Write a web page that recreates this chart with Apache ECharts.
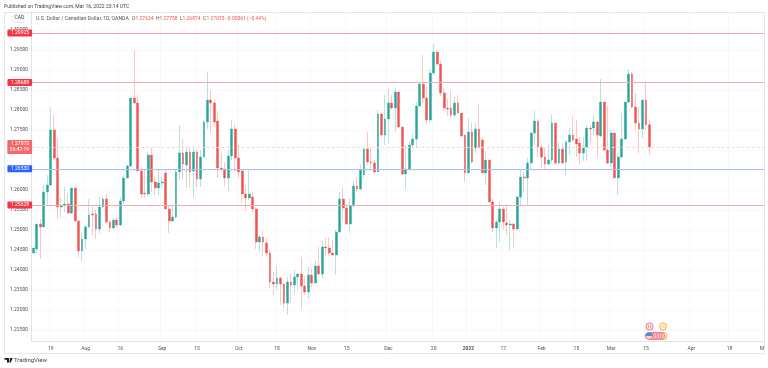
<!DOCTYPE html>
<html><head><meta charset="utf-8">
<style>html,body{margin:0;padding:0;background:#fff;overflow:hidden}#c{width:768px;height:368px;filter:blur(.35px);}</style>
<script src="https://cdn.jsdelivr.net/npm/echarts@6/dist/echarts.min.js"></script>
</head><body><div id="c"></div>
<script>
const opens=[
1.24425,1.24525,1.2515,1.25075,1.2595,1.26125,1.275,1.268,1.25575,1.25625,
1.2565,1.25425,1.2605,1.25225,1.24475,1.24775,1.25075,1.254,1.254,1.25025,
1.25575,1.25775,1.252,1.2505,1.2525,1.25125,1.25725,1.263,1.266,1.283,
1.28175,1.26475,1.25925,1.259,1.26875,1.262,1.2605,1.26175,1.26425,1.25525,
1.25225,1.25325,1.2645,1.26925,1.26625,1.2695,1.26475,1.2695,1.26275,1.26825,
1.277,1.2825,1.28175,1.27725,1.2655,1.26525,1.263,1.2685,1.27525,1.268,
1.26475,1.259,1.258,1.25825,1.25525,1.247,1.24825,1.24675,1.24425,1.237,
1.2365,1.238,1.2365,1.23175,1.237,1.23625,1.23825,1.239,1.236,1.2345,
1.23875,1.23675,1.241,1.239,1.24575,1.2455,1.24425,1.24375,1.2495,1.25775,
1.2555,1.2515,1.256,1.261,1.26025,1.26375,1.27025,1.267,1.26675,1.2645,
1.279,1.27375,1.27775,1.28175,1.2805,1.2845,1.27575,1.264,1.26525,1.27125,
1.27275,1.281,1.2865,1.283,1.2775,1.28925,1.2945,1.2915,1.28425,1.2805,
1.2805,1.27875,1.28175,1.27925,1.27375,1.26425,1.2745,1.2705,1.27525,1.2725,
1.26425,1.2675,1.257,1.2505,1.252,1.25525,1.25175,1.25125,1.2515,1.25025,
1.25825,1.26325,1.263,1.26675,1.27425,1.27725,1.27075,1.26825,1.2665,1.2675,
1.27675,1.26675,1.27025,1.267,1.272,1.27375,1.27275,1.27175,1.26925,1.27075,
1.2755,1.2755,1.277,1.2735,1.282,1.27,1.26675,1.27425,1.263,1.26825,
1.27275,1.282,1.289,1.28075,1.27675,1.27525,1.2825,1.27634];
const closes=[
1.2455,1.2515,1.25075,1.2595,1.26125,1.275,1.268,1.25575,1.25625,1.2565,
1.25425,1.2605,1.25225,1.24475,1.24775,1.25075,1.25375,1.25375,1.25025,1.25575,
1.25775,1.252,1.2505,1.2525,1.25125,1.25725,1.263,1.266,1.283,1.28175,
1.26475,1.259,1.259,1.26875,1.262,1.2605,1.26175,1.262,1.25525,1.25225,
1.25325,1.2645,1.26925,1.2665,1.2695,1.2645,1.2695,1.26275,1.26825,1.277,
1.2825,1.28175,1.277,1.2655,1.26525,1.263,1.2685,1.27525,1.268,1.2645,
1.259,1.258,1.259,1.25525,1.247,1.24825,1.247,1.24425,1.237,1.2365,
1.238,1.2365,1.23175,1.237,1.23625,1.23825,1.239,1.236,1.2345,1.23875,
1.23675,1.241,1.239,1.24575,1.2455,1.24425,1.24375,1.2495,1.25775,1.2555,
1.2515,1.256,1.261,1.26025,1.265,1.27025,1.267,1.26675,1.2645,1.279,
1.27375,1.27775,1.28175,1.2805,1.2845,1.27575,1.264,1.26525,1.27125,1.27275,
1.281,1.2865,1.283,1.2775,1.28925,1.2945,1.2915,1.28425,1.2805,1.28025,
1.27875,1.28175,1.27925,1.2735,1.26425,1.2745,1.267,1.27525,1.2705,1.26425,
1.2675,1.257,1.2505,1.252,1.25525,1.252,1.25125,1.2515,1.25025,1.25825,
1.26325,1.263,1.26675,1.27425,1.27725,1.27075,1.26825,1.2665,1.2675,1.27675,
1.26675,1.27025,1.26675,1.272,1.27375,1.2725,1.2715,1.26925,1.27075,1.2755,
1.27525,1.277,1.27375,1.282,1.27,1.26675,1.27425,1.263,1.26825,1.27275,
1.282,1.289,1.28075,1.27675,1.27525,1.2825,1.27634,1.27073];
const lows=[
1.24425,1.24425,1.24275,1.25075,1.25625,1.26125,1.2675,1.25275,1.25325,1.2545,
1.254,1.254,1.252,1.24325,1.24225,1.24525,1.2505,1.24875,1.24775,1.24925,
1.2555,1.25175,1.2495,1.25025,1.2505,1.251,1.2565,1.263,1.26575,1.2815,
1.26475,1.258,1.258,1.2585,1.2595,1.25875,1.25875,1.2605,1.25525,1.24925,
1.252,1.25275,1.2625,1.2625,1.2605,1.26075,1.25825,1.26075,1.26075,1.268,
1.27525,1.27425,1.27575,1.263,1.2645,1.261,1.2595,1.2675,1.2645,1.263,
1.25675,1.25475,1.2575,1.2545,1.24525,1.2445,1.2435,1.24325,1.2355,1.23375,
1.235,1.23125,1.23075,1.22875,1.232,1.23425,1.235,1.23025,1.23375,1.23275,
1.23575,1.23675,1.23875,1.23775,1.2435,1.2435,1.2435,1.23875,1.24925,1.2525,
1.25125,1.24925,1.25575,1.2595,1.26,1.263,1.26625,1.265,1.26425,1.2645,
1.2735,1.27125,1.2715,1.28,1.2745,1.2755,1.26375,1.26025,1.265,1.27075,
1.2705,1.28075,1.28175,1.2765,1.277,1.28875,1.291,1.2835,1.28,1.2785,
1.27825,1.27825,1.279,1.27325,1.262,1.26425,1.26675,1.26925,1.2705,1.26425,
1.26125,1.257,1.2495,1.2455,1.247,1.25,1.24875,1.245,1.2455,1.25,
1.25575,1.2595,1.25625,1.26525,1.27125,1.26825,1.2655,1.26525,1.26625,1.26675,
1.26625,1.26625,1.2665,1.2635,1.26875,1.272,1.26825,1.2665,1.26725,1.26725,
1.272,1.27375,1.26825,1.27325,1.26975,1.2665,1.26575,1.263,1.25875,1.268,
1.2725,1.28175,1.2805,1.275,1.26925,1.273,1.275,1.26874];
const highs=[
1.2455,1.2515,1.25275,1.26125,1.26375,1.28075,1.27875,1.273,1.25825,1.26075,
1.25925,1.2605,1.2605,1.25225,1.24925,1.25125,1.25775,1.25625,1.255,1.25825,
1.25825,1.259,1.2525,1.253,1.25325,1.25825,1.26375,1.26625,1.283,1.295,
1.28375,1.26575,1.265,1.2695,1.27075,1.26325,1.265,1.26325,1.265,1.256,
1.256,1.265,1.27625,1.27275,1.2705,1.27075,1.2705,1.27,1.27,1.2775,
1.2895,1.285,1.28275,1.27975,1.26925,1.267,1.27,1.2775,1.2765,1.27125,
1.265,1.26125,1.265,1.2595,1.25575,1.24875,1.24975,1.248,1.245,1.2395,
1.241,1.23825,1.23675,1.23825,1.23925,1.24,1.23925,1.24325,1.2385,1.24075,
1.24025,1.2425,1.24575,1.24725,1.248,1.24825,1.2475,1.25,1.2595,1.2605,
1.256,1.258,1.26225,1.26325,1.26625,1.2705,1.2745,1.27075,1.2675,1.28,
1.27925,1.28375,1.2855,1.28375,1.2855,1.2845,1.27575,1.27125,1.272,1.274,
1.282,1.28675,1.29375,1.28575,1.29025,1.2965,1.29475,1.2925,1.2855,1.283,
1.28475,1.28325,1.28375,1.27925,1.27375,1.278,1.27675,1.27675,1.2815,1.27325,
1.26975,1.2675,1.25775,1.2525,1.257,1.25575,1.2565,1.2525,1.25175,1.25875,
1.265,1.2645,1.268,1.27425,1.27975,1.27775,1.27125,1.27075,1.2715,1.27875,
1.27675,1.272,1.27175,1.2725,1.2755,1.2785,1.2775,1.27325,1.27325,1.276,
1.27625,1.2785,1.27725,1.28775,1.282,1.281,1.275,1.27425,1.26925,1.27925,
1.282,1.29025,1.2895,1.28425,1.28075,1.2825,1.28725,1.27758];
const yTicks=[1.225,1.23,1.235,1.24,1.245,1.25,1.255,1.26,1.265,1.27,1.275,1.28,1.285,1.29,1.295,1.3];
const xTickLabels={'2021-07-19':'19','2021-08-02':'Aug','2021-08-16':'16','2021-09-01':'Sep','2021-09-15':'15','2021-10-01':'Oct','2021-10-18':'18','2021-11-01':'Nov','2021-11-15':'15','2021-12-01':'Dec','2021-12-20':'20','2022-01-03':'2022','2022-01-17':'17','2022-02-01':'Feb','2022-02-15':'15','2022-03-01':'Mar','2022-03-15':'15','2022-04-01':'Apr','2022-04-18':'18','2022-05-02':'May'};
const redLevels=[1.29925,1.28688,1.25628];
const blueLevel=1.2653;
const lastPrice=1.27073;
const countdown='06:47:19';

const categories=[];
for(let t=Date.UTC(2021,6,12);categories.length<211;t+=864e5){
  const d=new Date(t);const w=d.getUTCDay();
  if(w!==0&&w!==6)categories.push(d.toISOString().slice(0,10));
}
const UP='#26a69a',DOWN='#ef5350',INK='#50535e',FONT='Roboto, Arial, sans-serif';
const full=opens.map((o,i)=>[o,closes[i],lows[i],highs[i]]);
const bodies=opens.map((o,i)=>[o,closes[i],Math.min(o,closes[i]),Math.max(o,closes[i])]);
const lvlLabel=(bg)=>({show:true,position:'start',distance:-0.5,color:'#fff',fontSize:5,fontFamily:FONT,
  backgroundColor:bg,padding:[1,3,1,3.5],borderRadius:1,lineHeight:5,
  formatter:p=>p.value.toFixed(5)});
const lines=redLevels.map(v=>({yAxis:v,lineStyle:{color:'#f9a8ae',width:1,type:'solid'},label:lvlLabel('#f23645')}));
lines.push({yAxis:blueLevel,lineStyle:{color:'#a9c0fb',width:1,type:'solid'},label:lvlLabel('#2962ff')});
lines.push({yAxis:lastPrice,lineStyle:{color:'#fad4d3',width:1,type:[3,2]},
  label:Object.assign(lvlLabel('#f4686a'),{lineHeight:6,padding:[1,3,1,2.5],formatter:p=>p.value.toFixed(5)+'\n'+countdown})});

const gfx=[];
const txt=(x,y,text,o)=>gfx.push({type:'text',x,y,silent:true,z:10,style:Object.assign({text,fill:INK,fontSize:5.2,fontFamily:FONT,textVerticalAlign:'middle'},o||{})});
const rect=(x,y,w,h,o,r)=>gfx.push({type:'rect',silent:true,z:o.z||5,shape:{x,y,width:w,height:h,r:r||0},style:o});
rect(764,0,4,368,{fill:'#fff',z:8});
rect(4.5,12.5,760,341,{fill:'none',stroke:'#e4e6ec',lineWidth:1,z:9});
txt(4,6.8,'Published on TradingView.com, Mar 16, 2022 23:14 UTC',{fontSize:5.05,fill:'#3c3f4a'});
rect(13,14.5,11,8,{fill:'#fff',stroke:'#dfe1e8',lineWidth:.8,z:9},2);
txt(14.6,18.2,'CAD',{fontSize:5,fill:'#3c3f4a'});
txt(36,19,'U.S. Dollar / Canadian Dollar, 1D, OANDA',{fontSize:5.2});
const legend=[[132,'O'],[135.5,'1.27634'],[156,'H'],[159.5,'1.27758'],[180,'L'],[182.5,'1.26874'],[203,'C'],[206.5,'1.27073'],[225,'\u22120.00561 (\u22120.44%)']];
legend.forEach(([x,t])=>txt(x,19,t,{fontSize:4.95,fill:/^[OHLC]$/.test(t)?INK:DOWN}));
gfx.push({type:'polygon',silent:true,z:10,shape:{points:[[4.5,358],[9,358],[9,362.5],[7,362.5],[7,359.8],[4.5,359.8]]},style:{fill:'#131722'}});
gfx.push({type:'polygon',silent:true,z:10,shape:{points:[[10,358],[12.6,358],[10.8,362.5],[9.5,362.5]]},style:{fill:'#131722'}});
txt(14,360.5,'TradingView',{fontSize:6,fill:'#3c3f4a'});
const ev=(x,y,c,f)=>gfx.push({type:'circle',silent:true,z:7,shape:{cx:x,cy:y,r:3.6},style:{fill:f,stroke:c,lineWidth:1}});
ev(649.5,326.5,'#f5717f','#fde3e6');ev(663,326.5,'#f9b24e','#fff1dc');
[663.5,661,658.5,656,653.5,651,649].forEach((x,i)=>ev(x,336,i===0?'#f9b24e':'#f5717f',i===0?'#fff1dc':'#fbd0d5'));
gfx.push({type:'sector',silent:true,z:7,shape:{cx:649,cy:336,r:3.6,r0:0,startAngle:Math.PI,endAngle:Math.PI*2},style:{fill:'#4a90e2'}});
[[648.5,326.5,'#f5717f'],[650.5,326.5,'#f5717f'],[662,326.5,'#f9b24e'],[664,326.5,'#f9b24e']].forEach(([x,y,c])=>rect(x-.35,y-1.2,.7,2.4,{fill:c,z:8}));

const chart=echarts.init(document.getElementById('c'),null,{renderer:'canvas'});
chart.setOption({
  animation:false,backgroundColor:'#fff',
  grid:{left:31.6,top:12,width:734.5,height:329,containLabel:false,outerBoundsMode:'none'},
  xAxis:{type:'category',data:categories,boundaryGap:true,
    axisLine:{show:true,lineStyle:{color:'#e0e3eb',width:1}},
    axisTick:{show:false,alignWithLabel:true,interval:(i,v)=>v in xTickLabels},
    axisLabel:{show:true,margin:5,fontSize:5,color:INK,fontFamily:FONT,hideOverlap:false,
      interval:(i,v)=>v in xTickLabels,
      formatter:v=>v==='2022-01-03'?'{b|2022}':(xTickLabels[v]||''),
      rich:{b:{fontSize:5,fontWeight:'bold',color:INK,fontFamily:FONT}}},
    splitLine:{show:true,interval:(i,v)=>v in xTickLabels,lineStyle:{color:'#f6f7fa',width:1}}},
  yAxis:{type:'value',position:'left',scale:true,min:1.22225,max:1.3045,
    axisLine:{show:true,lineStyle:{color:'#e0e3eb',width:1}},
    axisTick:{show:false,customValues:yTicks},
    axisLabel:{margin:3.5,fontSize:5,color:INK,fontFamily:FONT,customValues:yTicks,padding:[3,0,0,0],formatter:v=>v.toFixed(5)},
    splitLine:{show:true,lineStyle:{color:'#f6f7fa',width:1}}},
  series:[
    {type:'candlestick',data:full,barWidth:1,z:2,silent:true,
      itemStyle:{color:'rgba(38,166,154,.4)',color0:'rgba(239,83,80,.4)',borderColor:'rgba(38,166,154,.4)',borderColor0:'rgba(239,83,80,.4)',borderWidth:.8},
      markLine:{silent:true,symbol:'none',animation:false,precision:5,data:lines,z:4}},
    {type:'candlestick',data:bodies,barWidth:2.3,z:3,silent:true,
      itemStyle:{color:UP,color0:DOWN,borderColor:UP,borderColor0:DOWN,borderWidth:.4}}
  ],
  graphic:{elements:gfx}
});
</script></body></html>
